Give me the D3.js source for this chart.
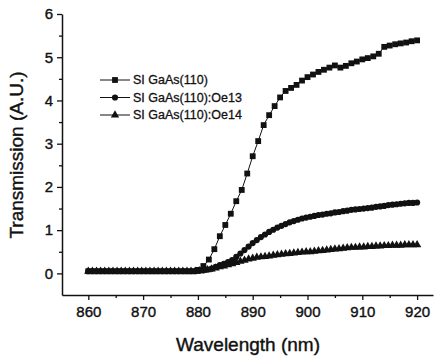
<!DOCTYPE html>
<html>
<head>
<meta charset="utf-8">
<script src="https://cdn.jsdelivr.net/npm/d3@7"></script>
<style>
  body { margin: 0; background: #fff; }
  svg { display: block; font-family: "Liberation Sans", Arial, sans-serif; }
</style>
</head>
<body>
<svg width="436" height="360"></svg>
<script>
// wavelength grids (nm)
var wlSquare = d3.range(860, 920.01, 1);      // 61 points
var wlFine = d3.range(860, 920.01, 0.75);     // 81 points

var seriesNames = ["SI GaAs(110)", "SI GaAs(110):Oe13", "SI GaAs(110):Oe14"];

var gaas = [
  0.05, 0.05, 0.05, 0.05, 0.05, 0.05, 0.05, 0.05, 0.05, 0.05,
  0.05, 0.05, 0.05, 0.05, 0.05, 0.05, 0.05, 0.05, 0.05, 0.05,
  0.08, 0.17, 0.32, 0.56, 0.86, 1.12, 1.38, 1.67, 1.93, 2.31,
  2.71, 3.06, 3.43, 3.66, 3.87, 4.07, 4.22, 4.29, 4.36, 4.46,
  4.54, 4.60, 4.66, 4.71, 4.76, 4.81, 4.76, 4.80, 4.86, 4.90,
  4.95, 4.98, 5.02, 5.08, 5.24, 5.27, 5.30, 5.32, 5.34, 5.37,
  5.39
];

var oe13 = [
  0.05, 0.05, 0.05, 0.05, 0.05, 0.05, 0.05, 0.05, 0.05, 0.05,
  0.05, 0.05, 0.05, 0.05, 0.05, 0.05, 0.05, 0.05, 0.05, 0.05,
  0.05, 0.05, 0.05, 0.05, 0.05, 0.05, 0.05, 0.06, 0.07, 0.09,
  0.11, 0.15, 0.19, 0.22, 0.26, 0.31, 0.38, 0.46, 0.54, 0.62,
  0.70, 0.77, 0.84, 0.90, 0.96, 1.01, 1.06, 1.10, 1.14, 1.18,
  1.21, 1.24, 1.27, 1.29, 1.31, 1.33, 1.35, 1.36, 1.38, 1.39,
  1.41, 1.42, 1.44, 1.45, 1.47, 1.48, 1.49, 1.50, 1.51, 1.52,
  1.54, 1.55, 1.56, 1.58, 1.59, 1.60, 1.61, 1.62, 1.63, 1.63,
  1.64
];

var oe14 = [
  0.05, 0.05, 0.05, 0.05, 0.05, 0.05, 0.05, 0.05, 0.05, 0.05,
  0.05, 0.05, 0.05, 0.05, 0.05, 0.05, 0.05, 0.05, 0.05, 0.05,
  0.05, 0.05, 0.05, 0.05, 0.05, 0.05, 0.05, 0.06, 0.07, 0.08,
  0.10, 0.12, 0.15, 0.17, 0.20, 0.22, 0.25, 0.28, 0.30, 0.33,
  0.35, 0.37, 0.38, 0.39, 0.40, 0.42, 0.43, 0.44, 0.45, 0.46,
  0.47, 0.48, 0.49, 0.50, 0.50, 0.51, 0.52, 0.53, 0.54, 0.55,
  0.56, 0.57, 0.58, 0.59, 0.60, 0.60, 0.61, 0.61, 0.62, 0.62,
  0.63, 0.63, 0.64, 0.64, 0.65, 0.65, 0.65, 0.66, 0.66, 0.66,
  0.66
];

var xTicks = [860, 870, 880, 890, 900, 910, 920];
var yTicks = [0, 1, 2, 3, 4, 5, 6];

var svg = d3.select("svg");

var x = d3.scaleLinear().domain([855.2, 922.9]).range([62, 433]),
    y = d3.scaleLinear().domain([-0.5, 6]).range([295, 14]);

var series = [
  {name: seriesNames[0], symbol: d3.symbolSquare, size: 34, values: wlSquare.map(function(w, i) { return {wl: w, v: gaas[i]}; })},
  {name: seriesNames[1], symbol: d3.symbolCircle, size: 30, values: wlFine.map(function(w, i) { return {wl: w, v: oe13[i]}; })},
  {name: seriesNames[2], symbol: d3.symbolTriangle, size: 30, values: wlFine.map(function(w, i) { return {wl: w, v: oe14[i]}; })}
];

var line = d3.line()
  .x(function(d) { return x(d.wl); })
  .y(function(d) { return y(d.v); });

// axes
var minorX = d3.range(865, 922, 10);
var minorY = d3.range(0.5, 6, 1);

svg.append("g")
  .attr("transform", "translate(0," + y(-0.5) + ")")
  .call(d3.axisBottom(x).tickValues(xTicks).tickSize(5).tickPadding(6).tickSizeOuter(0));
svg.append("g")
  .attr("transform", "translate(0," + y(-0.5) + ")")
  .call(d3.axisBottom(x).tickValues(minorX).tickSize(3).tickFormat("").tickSizeOuter(0))
  .select(".domain").remove();

svg.append("g")
  .attr("transform", "translate(" + x(855.2) + ",0)")
  .call(d3.axisLeft(y).tickValues(yTicks).tickFormat(d3.format("d")).tickSize(5).tickPadding(4).tickSizeOuter(0));
svg.append("g")
  .attr("transform", "translate(" + x(855.2) + ",0)")
  .call(d3.axisLeft(y).tickValues(minorY).tickSize(3).tickFormat("").tickSizeOuter(0))
  .select(".domain").remove();

svg.selectAll(".domain").attr("stroke", "#111").attr("stroke-width", 1.5);
svg.selectAll(".tick line").attr("stroke", "#111").attr("stroke-width", 1.3);
svg.selectAll(".tick text")
  .attr("fill", "#111")
  .attr("stroke", "#111")
  .attr("stroke-width", 0.4)
  .style("font-size", "15px")
  .style("font-family", "'Liberation Sans', Arial, sans-serif");

// axis titles
svg.append("text")
  .attr("x", 248).attr("y", 351)
  .attr("text-anchor", "middle")
  .attr("fill", "#111")
  .attr("stroke", "#111")
  .attr("stroke-width", 0.4)
  .style("font-size", "19px")
  .text("Wavelength (nm)");

svg.append("text")
  .attr("transform", "translate(23,155) rotate(-90)")
  .attr("text-anchor", "middle")
  .attr("fill", "#111")
  .attr("stroke", "#111")
  .attr("stroke-width", 0.4)
  .style("font-size", "19px")
  .text("Transmission (A.U.)");

// series
var plot = svg.append("g");
series.forEach(function(s) {
  plot.append("path")
    .datum(s.values)
    .attr("fill", "none")
    .attr("stroke", "#111")
    .attr("stroke-width", 1)
    .attr("d", line);
  plot.selectAll(null)
    .data(s.values)
    .enter().append("path")
    .attr("transform", function(d) { return "translate(" + x(d.wl) + "," + y(d.v) + ")"; })
    .attr("d", d3.symbol().type(s.symbol).size(s.size))
    .attr("fill", "#111");
});

// legend
var legend = svg.append("g").attr("transform", "translate(100,80)");
series.forEach(function(s, i) {
  var row = legend.append("g").attr("transform", "translate(0," + (i * 17.5) + ")");
  row.append("line").attr("x1", 0).attr("x2", 30).attr("stroke", "#111").attr("stroke-width", 1);
  row.append("path").attr("transform", "translate(15,0)")
    .attr("d", d3.symbol().type(s.symbol).size(s.size)).attr("fill", "#111");
  row.append("text").attr("x", 33).attr("dy", "0.35em")
    .attr("fill", "#111")
    .attr("stroke", "#111")
    .attr("stroke-width", 0.3)
    .style("font-size", "12.5px")
    .text(s.name);
});
</script>
</body>
</html>
